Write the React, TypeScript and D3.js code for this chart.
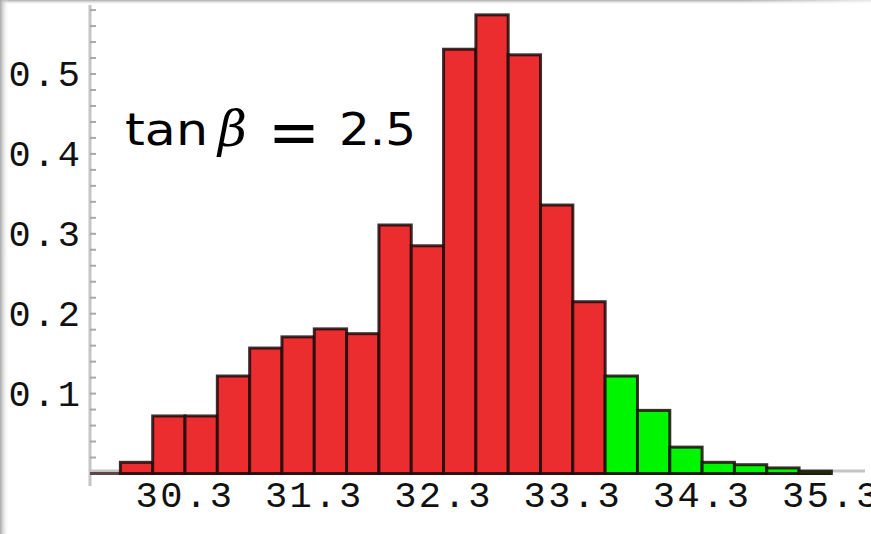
import React from "react";
import * as d3 from "d3";

// Histogram: bin lower edges and heights
const binStart = 29.8;
const binWidth = 0.25;
const redHeights = [
  0.014, 0.072, 0.072, 0.122, 0.157, 0.171, 0.181, 0.175,
  0.311, 0.285, 0.531, 0.574, 0.524, 0.336, 0.215,
];
const greenHeights = [0.122, 0.079, 0.033, 0.014, 0.011, 0.007, 0.003];
const xTickValues = [30.3, 31.3, 32.3, 33.3, 34.3, 35.3];
const yTickValues = [0.1, 0.2, 0.3, 0.4, 0.5];
const annotation = { prefix: "tan", symbol: "β", eq: "=", value: "2.5" };

const W = 871;
const H = 534;

export default function App() {
  const x = d3.scaleLinear().domain([29.565, 35.56]).range([90, 865]);
  const y = d3.scaleLinear().domain([0, 0.1]).range([473.5, 393.6]);

  const bars = [
    ...redHeights.map((v) => ({ v, color: "#eb2d30" })),
    ...greenHeights.map((v) => ({ v, color: "#00f500" })),
  ].map((b, i) => ({
    ...b,
    x0: binStart + i * binWidth,
    x1: binStart + (i + 1) * binWidth,
  }));

  const minorTicks = d3.range(0, 0.59, 0.02);
  const lastEdge = binStart + bars.length * binWidth;
  const monoLS = 2.5;
  const sans = "'DejaVu Sans', 'Noto Sans', sans-serif";

  return (
    <svg
      width={W}
      height={H}
      style={{ position: "fixed", left: 0, top: 0, background: "#fff" }}
    >
      <defs>
        <linearGradient id="shadeLeft" x1="0" x2="1" y1="0" y2="0">
          <stop offset="0" stopColor="#a8a8a8" />
          <stop offset="1" stopColor="#ffffff" stopOpacity="0" />
        </linearGradient>
        <linearGradient id="shadeTop" x1="0" x2="0" y1="0" y2="1">
          <stop offset="0" stopColor="#a8a8a8" />
          <stop offset="1" stopColor="#ffffff" stopOpacity="0" />
        </linearGradient>
        <linearGradient id="shadeTopFade" x1="0" x2="1" y1="0" y2="0">
          <stop offset="0.85" stopColor="#fff" stopOpacity="1" />
          <stop offset="1" stopColor="#fff" stopOpacity="0.3" />
        </linearGradient>
        <mask id="topMask">
          <rect x={0} y={0} width={W} height={8} fill="url(#shadeTopFade)" />
        </mask>
      </defs>

      <rect x={0} y={0} width={W} height={H} fill="#fff" />
      <rect x={0} y={0} width={W} height={5} fill="url(#shadeTop)" mask="url(#topMask)" />
      <rect x={0} y={0} width={9} height={H} fill="url(#shadeLeft)" />

      {/* axes */}
      <line x1={90} x2={90} y1={5} y2={486} stroke="#c4c4c4" strokeWidth={3} />
      <line x1={90} x2={865} y1={471} y2={471} stroke="#c4c4c4" strokeWidth={3} />
      {minorTicks.map((t, i) => (
        <line
          key={i}
          x1={90}
          x2={96}
          y1={y(t)}
          y2={y(t)}
          stroke="#a8a8a8"
          strokeWidth={2}
        />
      ))}

      {/* baseline under the bars */}
      <line
        x1={90}
        x2={x(lastEdge)}
        y1={473.5}
        y2={473.5}
        stroke="#5e4646"
        strokeWidth={3}
      />

      {/* bars */}
      {bars.map((b, i) => (
        <rect
          key={i}
          x={x(b.x0)}
          y={y(b.v)}
          width={x(b.x1) - x(b.x0)}
          height={y(0) - y(b.v)}
          fill={b.color}
          stroke="#1c0a0a"
          strokeOpacity={0.85}
          strokeWidth={3}
        />
      ))}

      {/* y tick labels */}
      {yTickValues.map((t) => (
        <text
          key={t}
          x={80 + monoLS}
          y={y(t) + 12}
          textAnchor="end"
          fontFamily="'Liberation Mono', 'DejaVu Sans Mono', monospace"
          fontSize={37}
          letterSpacing={monoLS}
          fill="#111"
        >
          {t.toFixed(1)}
        </text>
      ))}

      {/* x tick labels */}
      {xTickValues.map((t) => (
        <text
          key={t}
          x={x(t)}
          y={507}
          textAnchor="middle"
          fontFamily="'Liberation Mono', 'DejaVu Sans Mono', monospace"
          fontSize={37}
          letterSpacing={monoLS}
          fill="#111"
        >
          {t.toFixed(1)}
        </text>
      ))}

      {/* annotation */}
      <g fill="#000">
        <text x={125} y={145} fontSize={45} fontFamily={sans} textLength={83} lengthAdjust="spacingAndGlyphs">
          {annotation.prefix}
        </text>
        <text
          x={218}
          y={146}
          fontSize={50}
          fontFamily="'DejaVu Serif', 'Liberation Serif', serif"
          fontStyle="italic"
        >
          {annotation.symbol}
        </text>
        <text x={268} y={154} fontSize={62} fontFamily={sans}>
          {annotation.eq}
        </text>
        <text x={339} y={145} fontSize={45} fontFamily={sans} textLength={77} lengthAdjust="spacingAndGlyphs">
          {annotation.value}
        </text>
      </g>
    </svg>
  );
}
